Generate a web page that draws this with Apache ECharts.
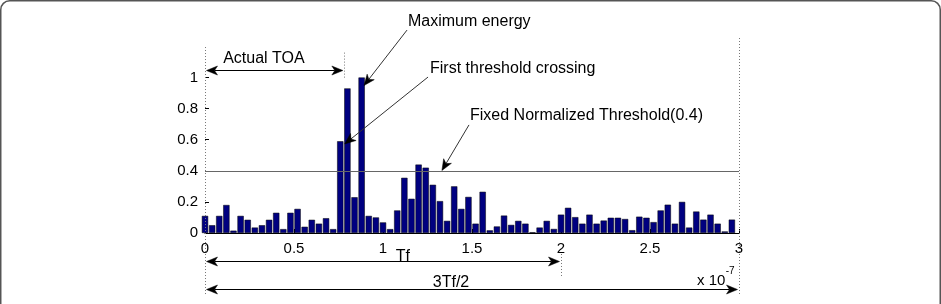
<!DOCTYPE html>
<html>
<head>
<meta charset="utf-8">
<script src="https://cdn.jsdelivr.net/npm/echarts@6/dist/echarts.min.js"></script>
<style>
html,body{margin:0;padding:0;background:#fff;}
#chart{width:941px;height:304px;}
</style>
</head>
<body>
<div id="chart"></div>
<script>
// ---- data ----
const binWidth = 0.04;            // bin spacing (x 10^-7 s)
const energy = [
  0.11, 0.05, 0.11, 0.18, 0.015, 0.11, 0.085, 0.035, 0.05, 0.085,
  0.13, 0.025, 0.13, 0.155, 0.04, 0.085, 0.06, 0.095, 0.025, 0.59,
  0.93, 0.23, 1.0, 0.11, 0.10, 0.068, 0.025, 0.145, 0.355, 0.22,
  0.44, 0.42, 0.31, 0.205, 0.078, 0.30, 0.155, 0.232, 0.06, 0.265,
  0.017, 0.042, 0.112, 0.052, 0.078, 0.06, 0.005, 0.035, 0.078, 0.026,
  0.118, 0.162, 0.102, 0.06, 0.118, 0.06, 0.08, 0.098, 0.098, 0.09,
  0.018, 0.105, 0.098, 0.07, 0.145, 0.182, 0.06, 0.2, 0.035, 0.138,
  0.086, 0.118, 0.06, 0.01, 0.086
];
const threshold = 0.4;
const actualTOA = 0.78;
const tf = 2;
const threeTfHalf = 3;
const yTicks = [0, 0.2, 0.4, 0.6, 0.8, 1];
const xTicks = [0, 0.5, 1, 1.5, 2, 2.5, 3];

const barData = energy.map((v, i) => [i * binWidth, v]);

const chart = echarts.init(document.getElementById('chart'), null, {renderer: 'canvas'});
const FONT = 'Liberation Sans';

chart.setOption({
  animation: false,
  backgroundColor: '#fff',
  grid: {left: 205, right: 202, top: 77.5, bottom: 71, outerBoundsMode: 'none'},
  xAxis: {
    type: 'value', min: xTicks[0], max: xTicks[xTicks.length - 1], interval: 0.5,
    axisLine: {show: true, lineStyle: {color: '#000', width: 1}},
    axisTick: {show: true, inside: true, length: 4, lineStyle: {color: '#000'}},
    axisLabel: {color: '#000', fontSize: 15, fontFamily: FONT, margin: 8},
    splitLine: {show: false}
  },
  yAxis: {
    type: 'value', min: yTicks[0], max: yTicks[yTicks.length - 1], interval: 0.2,
    axisLine: {show: false},
    axisTick: {show: true, inside: true, length: 4, lineStyle: {color: '#000'}},
    axisLabel: {color: '#000', fontSize: 15, fontFamily: FONT, margin: 7},
    splitLine: {show: false}
  },
  series: [{
    type: 'bar',
    data: barData,
    barWidth: '88%',
    clip: true,
    itemStyle: {color: '#000080', borderColor: '#000', borderWidth: 0.5},
    markLine: {
      silent: true, symbol: 'none', label: {show: false},
      lineStyle: {color: '#666', type: 'solid', width: 1},
      data: [{yAxis: threshold}]
    }
  }]
});

// ---- annotations, positioned through the axis scales ----
function P(x, y) { return chart.convertToPixel({gridIndex: 0}, [x, y]); }

const g = [];
function line(a, b, opt) {
  g.push({type: 'line', silent: true, z: 100,
    shape: {x1: a[0], y1: a[1], x2: b[0], y2: b[1]},
    style: Object.assign({stroke: '#000', lineWidth: 1}, opt || {})});
}
function dotted(x, y1, y2) {
  const a = P(x, y1), b = P(x, y2);
  const px = Math.round(a[0]) + 0.5;
  line([px, a[1]], [px, b[1]], {stroke: '#777', lineDash: [1, 2], lineWidth: 1});
}
function head(tip, from) {
  const L = 11, W = 4.5, N = 3;
  const dx = tip[0] - from[0], dy = tip[1] - from[1];
  const len = Math.hypot(dx, dy);
  const ux = dx / len, uy = dy / len, nx = -uy, ny = ux;
  const bx = tip[0] - ux * L, by = tip[1] - uy * L;
  const notch = [tip[0] - ux * (L - N), tip[1] - uy * (L - N)];
  g.push({type: 'polygon', silent: true, z: 101,
    shape: {points: [tip, [bx + nx * W, by + ny * W], notch, [bx - nx * W, by - ny * W]]},
    style: {fill: '#000', stroke: '#000', lineWidth: 0.5}});
  return notch;
}
function arrow(from, tip, stroke) {
  const n = head(tip, from);
  line(from, n, {stroke: stroke || '#333', lineWidth: 1});
}
function dblArrow(a, b) {
  const n1 = head(a, b), n2 = head(b, a);
  line(n1, n2, {stroke: '#000', lineWidth: 1});
}
function text(str, pos, size, align) {
  g.push({type: 'text', silent: true, z: 102, x: pos[0], y: pos[1],
    style: {text: str, fontSize: size || 16, fontFamily: FONT, fill: '#000',
      align: align || 'left', verticalAlign: 'middle'}});
}

// vertical dotted guides
dotted(0, 1.196, -0.405);
dotted(threeTfHalf, 1.254, -0.405);
dotted(actualTOA, 1.16, 0.99);
dotted(tf, -0.135, -0.28);

// Actual TOA
(function () {
  const y = 1.048;
  const a = P(0, y), b = P(actualTOA, y);
  dblArrow([a[0] + 1.5, Math.round(a[1]) + 0.5], [b[0] - 1, Math.round(b[1]) + 0.5]);
  text('Actual TOA', P(0.331, 1.119), 16, 'center');
})();

// Maximum energy
text('Maximum energy', P(1.140, 1.357), 16, 'left');
arrow(P(1.135, 1.305), P(0.893, 0.948));

// First threshold crossing
text('First threshold crossing', P(1.264, 1.055), 16, 'left');
arrow(P(1.253, 1.003), P(0.785, 0.573));

// Fixed threshold
text('Fixed Normalized Threshold(' + threshold + ')', P(1.489, 0.752), 16, 'left');
arrow(P(1.483, 0.695), P(1.331, 0.402));

// Tf span
(function () {
  const y = -0.18;
  const a = P(0, y), b = P(tf, y);
  dblArrow([a[0] + 1.5, Math.round(a[1]) + 0.5], [b[0] - 1.5, Math.round(b[1]) + 0.5]);
  text('Tf', P(1.112, -0.152), 16, 'center');
})();

// 3Tf/2 span
(function () {
  const y = -0.36;
  const a = P(0, y), b = P(threeTfHalf, y);
  dblArrow([a[0] + 1.5, Math.round(a[1]) + 0.5], [b[0] - 1.5, Math.round(b[1]) + 0.5]);
  text('3Tf/2', P(1.382, -0.322), 16, 'center');
})();

// axis exponent
text('x 10', P(2.764, -0.309), 15, 'left');
text('-7', P(2.925, -0.244), 10, 'left');

// figure frame
g.push({type: 'rect', silent: true, z: 0,
  shape: {x: 0.75, y: 0.75, width: 939.5, height: 330, r: 9},
  style: {fill: 'none', stroke: '#555', lineWidth: 1.5}});

chart.setOption({graphic: g});
</script>
</body>
</html>
